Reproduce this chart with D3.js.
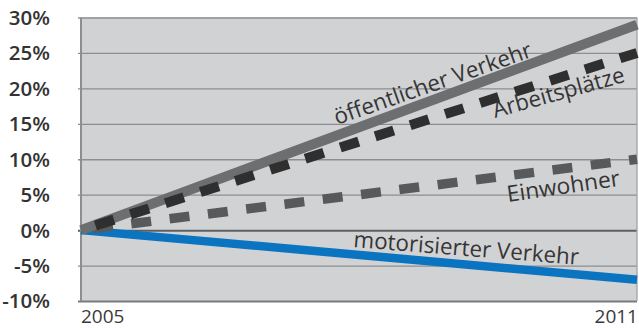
<!DOCTYPE html>
<html>
<head>
<meta charset="utf-8">
<script src="https://cdn.jsdelivr.net/npm/d3@7"></script>
<style>
  html, body { margin: 0; padding: 0; background: #ffffff; }
  svg { display: block; }
</style>
</head>
<body>
<svg id="chart" width="639" height="328"></svg>
<script>
// Change since 2005, in percent
const years = [2005, 2011];
const oeffentlicherVerkehr = [0, 29];
const arbeitsplaetze = [0, 25];
const einwohner = [0, 10];
const motorisierterVerkehr = [0, -7];
const yTicks = [30, 25, 20, 15, 10, 5, 0, -5, -10];
const xTickLabels = ["2005", "2011"];

const svg = d3.select("#chart");
const plotLeft = 81, plotRight = 637, plotTop = 17.5, plotBottom = 301;

const x = d3.scaleLinear().domain([2005, 2011]).range([plotLeft, plotRight]);
const y = d3.scaleLinear().domain([-10, 30]).range([plotBottom, plotTop]);

// plot background
svg.append("rect")
  .attr("x", plotLeft).attr("y", plotTop)
  .attr("width", plotRight - plotLeft).attr("height", plotBottom - plotTop)
  .attr("fill", "#d1d2d4");

// horizontal grid lines with short outer ticks
const yAxis = d3.axisLeft(y).tickValues(yTicks).tickFormat("");
const gy = svg.append("g").attr("transform", `translate(${plotLeft - 3},0)`).call(yAxis);
gy.select(".domain").remove();
gy.selectAll(".tick line")
  .attr("x1", 0).attr("x2", plotRight - plotLeft + 3)
  .attr("stroke", d => d === 0 ? "#5e5f61" : (d === -10 ? "#7a7b7d" : "#8d8e90"))
  .attr("stroke-width", d => (d === 0 || d === -10) ? 2 : 1.3);

// tick labels
svg.append("g").selectAll("text").data(yTicks).join("text")
  .attr("x", 50).attr("y", d => y(d))
  .attr("dy", "0.36em")
  .attr("text-anchor", "end")
  .attr("font-family", "'Open Sans', sans-serif")
  .attr("font-weight", 600)
  .attr("font-size", 20.5)
  .attr("fill", "#333333")
  .text(d => d + "%");

// frame: left axis and right edge
svg.append("line").attr("x1", plotLeft).attr("x2", plotLeft).attr("y1", plotTop).attr("y2", plotBottom)
  .attr("stroke", "#8d8e90").attr("stroke-width", 2);
svg.append("line").attr("x1", plotRight).attr("x2", plotRight).attr("y1", plotTop).attr("y2", plotBottom)
  .attr("stroke", "#a3a4a6").attr("stroke-width", 1.3);

// x labels
svg.append("g").selectAll("text").data(xTickLabels).join("text")
  .attr("x", (d, i) => i === 0 ? 81 : 638)
  .attr("y", 323)
  .attr("text-anchor", (d, i) => i === 0 ? "start" : "end")
  .attr("font-family", "'Open Sans', sans-serif")
  .attr("font-size", 19)
  .attr("fill", "#3a3a3a")
  .text(d => d);

const line = d3.line().x((d, i) => x(years[i])).y(d => y(d));

svg.append("path").datum(motorisierterVerkehr).attr("d", line)
  .attr("fill", "none").attr("stroke", "#0a74c0").attr("stroke-width", 8.5);

svg.append("path").datum(einwohner).attr("d", line)
  .attr("fill", "none").attr("stroke", "#58595b").attr("stroke-width", 9.5)
  .attr("stroke-dasharray", "20,18.6").attr("stroke-dashoffset", 26.5);

svg.append("path").datum(oeffentlicherVerkehr).attr("d", line)
  .attr("fill", "none").attr("stroke", "#6d6e70").attr("stroke-width", 10);

svg.append("path").datum(arbeitsplaetze).attr("d", line)
  .attr("fill", "none").attr("stroke", "#2f2f30").attr("stroke-width", 10)
  .attr("stroke-dasharray", "19.4,17.3").attr("stroke-dashoffset", 21.5);

// series labels set along their lines
const labels = [
  { text: "öffentlicher Verkehr", x: 337, y: 125, angle: -19.2, len: 208 },
  { text: "Arbeitsplätze", x: 495, y: 118, angle: -15.5, len: 136 },
  { text: "Einwohner", x: 508, y: 202, angle: -8.3, len: 114 },
  { text: "motorisierter Verkehr", x: 353, y: 247, angle: 4.5, len: 226 }
];
svg.append("g").selectAll("text").data(labels).join("text")
  .attr("transform", d => `translate(${d.x},${d.y}) rotate(${d.angle})`)
  .attr("font-family", "'Open Sans', sans-serif")
  .attr("font-size", 22.5)
  .attr("fill", "#353535")
  .attr("textLength", d => d.len)
  .attr("lengthAdjust", "spacingAndGlyphs")
  .text(d => d.text);
</script>
</body>
</html>
